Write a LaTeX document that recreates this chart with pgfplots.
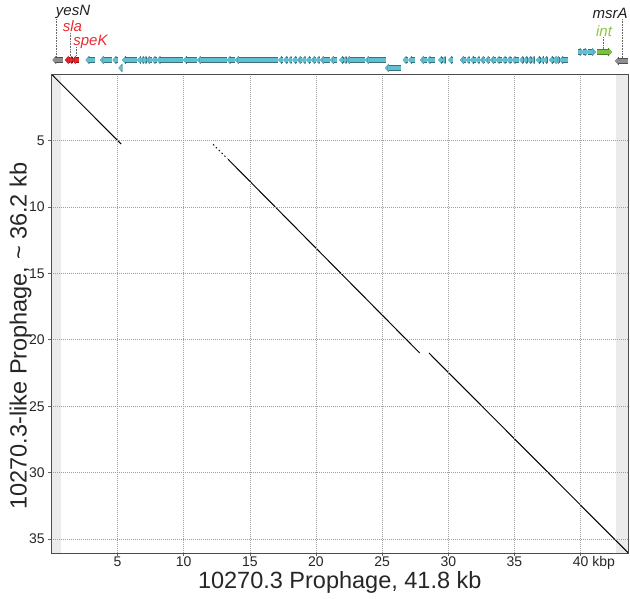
\documentclass[border=0pt]{standalone}
\usepackage{fontspec}
\setmainfont{Liberation Sans}
\usepackage{pgfplots}
\usepackage{pgfplotstable}
\pgfplotsset{compat=1.18}
\usetikzlibrary{arrows.meta}

\definecolor{cyanfill}{HTML}{5FC0D2}
\definecolor{cyanedge}{HTML}{3D6E7A}
\definecolor{greyfill}{HTML}{8E8E8E}
\definecolor{greyedge}{HTML}{505050}
\definecolor{redfill}{HTML}{E8262C}
\definecolor{rededge}{HTML}{8A1015}
\definecolor{greenfill}{HTML}{7DC143}
\definecolor{greenedge}{HTML}{4B7D22}
\definecolor{labred}{HTML}{EE2A2E}
\definecolor{labgreen}{HTML}{8DC63F}
\definecolor{labblack}{HTML}{231F20}

% genes: x = end where the arrow starts, u = signed length (kb), y = row
\pgfplotstableread{
x u y
3.30 -0.70 60
4.56 -0.88 60
5.06 -0.42 60
6.45 -1.09 60
6.70 -0.20 60
6.91 -0.20 60
7.16 -0.25 60
7.59 -0.43 60
7.97 -0.38 60
9.98 -2.01 60
11.01 -1.04 60
13.26 -2.24 60
13.89 -0.63 60
17.16 -3.27 60
17.54 -0.38 60
17.87 -0.33 60
18.22 -0.35 60
18.57 -0.35 60
18.93 -0.36 60
19.27 -0.35 60
19.63 -0.36 60
19.99 -0.36 60
20.31 -0.33 60
21.07 -0.76 60
21.57 -0.51 60
22.03 -0.26 60
22.28 -0.25 60
23.71 -1.44 60
25.30 -1.59 60
26.98 -0.42 60
27.49 -0.51 60
28.37 -0.51 60
29.00 -0.63 60
29.51 -0.26 60
29.76 -0.25 60
30.39 -0.38 60
31.32 -0.43 60
31.65 -0.33 60
32.08 -0.43 60
32.40 -0.33 60
32.78 -0.38 60
33.16 -0.38 60
33.59 -0.43 60
34.04 -0.45 60
34.42 -0.38 60
34.80 -0.38 60
35.37 -0.57 60
35.68 -0.30 60
35.98 -0.30 60
36.24 -0.26 60
36.49 -0.25 60
36.94 -0.30 60
37.19 -0.25 60
37.49 -0.30 60
37.90 -0.28 60
38.07 -0.17 60
38.40 -0.33 60
39.08 -0.68 60
5.29 -0.20 68
26.41 -1.19 68
39.83 0.38 52
40.21 0.38 52
40.59 0.56 52
}\cyangenes
\pgfplotstableread{
x u y
0.86 -0.76 60
43.59 -0.98 61
}\greygenes
\pgfplotstableread{
x u y
1.30 -0.26 60
1.57 -0.26 60
2.13 -0.56 60
}\redgenes
\pgfplotstableread{
x u y
41.22 1.13 52
}\greengenes

\pgfplotsset{
  gene edge/.style={quiver={u=\thisrow{u},v=0},
    -{Triangle[length=3.6pt,width=8.4pt,line width=0.01pt]},
    line width=5.2pt, draw=#1, fill=#1},
  gene fill/.style={quiver={u=\thisrow{u},v=0},
    -{Triangle[length=2.6pt,width=6.4pt,line width=0.01pt]},
    line width=3.6pt, draw=#1, fill=#1},
}

\begin{document}
\begin{tikzpicture}
\useasboundingbox (-51.3pt,-45pt) rectangle (578.7pt,553pt);
\begin{axis}[
  scale only axis, width=577pt, height=479pt,
  xmin=0, xmax=43.6, ymin=0, ymax=36.05, y dir=reverse,
  xtick={5,10,...,40},
  xticklabels={5,10,15,20,25,30,35,{40\rlap{\ kbp}}},
  ytick={5,10,...,35},
  tick pos=left, tick align=outside, major tick length=3pt,
  tick style={color=black!60, line width=0.6pt},
  grid=major,
  major grid style={color=black!38, dash pattern=on 1pt off 1pt, line width=0.5pt},
  axis line style={color=black!70, line width=0.9pt},
  axis on top,
  ticklabel style={font=\fontsize{14}{16}\selectfont, text=black!85},
  xticklabel style={yshift=3pt},
  /pgf/number format/assume math mode=true,
  label style={font=\fontsize{23.5}{26}\selectfont, text=black!85},
  xlabel={10270.3 Prophage, 41.8 kb},
  ylabel={10270.3-like Prophage, \textasciitilde\ 36.2 kb},
  xlabel style={at={(axis description cs:0.5,-0.062)}, anchor=center},
  ylabel style={at={(axis description cs:-0.0535,0.453)}, anchor=center},
]
% shaded ends
\addplot[fill=black!8, draw=none] coordinates {(0,0) (0.73,0) (0.73,36.05) (0,36.05)} -- cycle;
\addplot[fill=black!8, draw=none] coordinates {(42.68,0) (43.6,0) (43.6,36.05) (42.68,36.05)} -- cycle;
% dot-plot matches
\addplot[black, line width=1pt] coordinates {(0,0) (5.28,5.27)};
\addplot[black, line width=0.9pt, dash pattern=on 1.5pt off 2.5pt] coordinates {(12.23,5.29) (13.30,6.36)};
\addplot[black, line width=1pt] coordinates {(13.36,6.42) (27.83,20.99)};
\addplot[black, line width=1pt] coordinates {(28.53,20.99) (43.6,36.05)};
\end{axis}

\begin{axis}[
  at={(0pt,479pt)}, anchor=south west,
  scale only axis, width=577pt, height=74pt,
  xmin=0, xmax=43.6, ymin=0, ymax=74, y dir=reverse,
  hide axis, clip=false,
]
% leader lines
\addplot[densely dotted, black!60, line width=0.6pt] coordinates {(0.41,19) (0.41,57)};
\addplot[densely dotted, black!60, line width=0.6pt] coordinates {(1.44,33) (1.44,57)};
\addplot[densely dotted, black!60, line width=0.6pt] coordinates {(1.92,47) (1.92,57)};
\addplot[densely dotted, black!60, line width=0.6pt] coordinates {(41.72,37) (41.72,49)};
\addplot[densely dotted, black!60, line width=0.6pt] coordinates {(43.11,19) (43.11,58)};
% genes
\addplot[gene edge=cyanedge] table[x=x, y=y] {\cyangenes};
\addplot[gene fill=cyanfill] table[x=x, y=y] {\cyangenes};
\addplot[gene edge=greyedge] table[x=x, y=y] {\greygenes};
\addplot[gene fill=greyfill] table[x=x, y=y] {\greygenes};
\addplot[gene edge=rededge] table[x=x, y=y] {\redgenes};
\addplot[gene fill=redfill] table[x=x, y=y] {\redgenes};
\addplot[gene edge=greenedge] table[x=x, y=y] {\greengenes};
\addplot[gene fill=greenfill] table[x=x, y=y] {\greengenes};
% gene names
\tikzset{genelab/.style={font=\itshape\fontsize{15}{15}\selectfont, inner sep=0.5pt}}
\node[genelab, text=labblack] at (axis cs:1.64,12) {yesN};
\node[genelab, text=labred] at (axis cs:1.60,26.5) {sla};
\node[genelab, text=labred] at (axis cs:2.96,41.5) {speK};
\node[genelab, text=labblack, anchor=east] at (axis cs:43.6,13) {msrA};
\node[genelab, text=labgreen] at (axis cs:41.77,31) {int};
\end{axis}
\end{tikzpicture}
\end{document}
